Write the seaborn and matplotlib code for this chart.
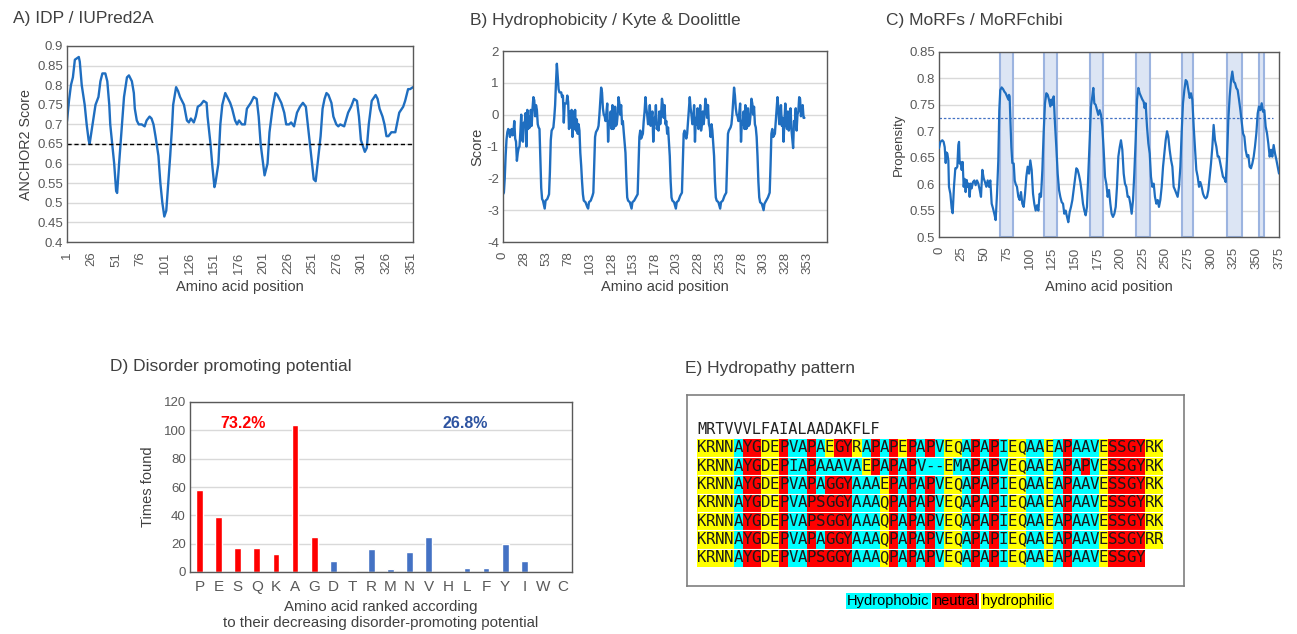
import numpy as np
import pandas as pd
import matplotlib.pyplot as plt
import seaborn as sns
from matplotlib.colors import ListedColormap

sns.set_style('white')
plt.rcParams['font.family'] = ['Liberation Sans', 'DejaVu Sans']
plt.rcParams['axes.unicode_minus'] = False

# ---------------- A) IUPred2A / ANCHOR2 ----------------
anchor_pos = [1, 3, 5, 7, 9, 12, 13, 14, 16, 19, 21, 23, 24, 27, 30, 33, 35, 37, 40, 42, 44, 45, 47,
              49, 51, 52, 54, 57, 59, 62, 64, 67, 69, 70, 72, 74, 77, 80, 82, 85, 87, 89, 91, 94,
              96, 98, 100, 102, 104, 106, 108, 109, 112, 114, 116, 120, 123, 125, 127, 130, 132,
              134, 137, 140, 143, 144, 147, 149, 151, 152, 155, 157, 159, 162, 164, 167, 169, 172,
              174, 176, 179, 182, 184, 188, 191, 194, 196, 198, 201, 202, 205, 207, 210, 213, 215,
              219, 222, 224, 227, 229, 232, 235, 238, 241, 244, 246, 249, 252, 254, 256, 259, 261,
              263, 265, 267, 270, 272, 275, 277, 279, 283, 287, 290, 293, 296, 298, 300, 304, 306,
              308, 311, 315, 317, 319, 322, 324, 326, 328, 331, 335, 337, 339, 343, 345, 348, 350, 353]
anchor_score = [0.708, 0.76, 0.80, 0.82, 0.865, 0.87, 0.872, 0.86, 0.80, 0.75, 0.70, 0.66, 0.65,
                0.70, 0.75, 0.77, 0.81, 0.83, 0.83, 0.81, 0.75, 0.70, 0.65, 0.60, 0.53, 0.525, 0.60,
                0.70, 0.77, 0.82, 0.825, 0.81, 0.78, 0.74, 0.71, 0.70, 0.70, 0.695, 0.71, 0.72,
                0.715, 0.70, 0.67, 0.62, 0.55, 0.50, 0.465, 0.48, 0.55, 0.62, 0.70, 0.75, 0.795,
                0.785, 0.77, 0.75, 0.71, 0.705, 0.715, 0.705, 0.72, 0.745, 0.75, 0.76, 0.755, 0.72,
                0.65, 0.59, 0.54, 0.55, 0.60, 0.70, 0.75, 0.78, 0.77, 0.755, 0.74, 0.71, 0.70, 0.71,
                0.70, 0.70, 0.74, 0.755, 0.77, 0.765, 0.72, 0.65, 0.59, 0.57, 0.60, 0.68, 0.74, 0.78,
                0.775, 0.755, 0.73, 0.70, 0.70, 0.705, 0.695, 0.73, 0.745, 0.755, 0.745, 0.70, 0.63,
                0.56, 0.555, 0.60, 0.67, 0.74, 0.765, 0.78, 0.775, 0.755, 0.72, 0.70, 0.695, 0.70,
                0.695, 0.73, 0.745, 0.765, 0.76, 0.72, 0.66, 0.63, 0.64, 0.70, 0.76, 0.775, 0.765,
                0.74, 0.72, 0.70, 0.67, 0.67, 0.68, 0.68, 0.705, 0.73, 0.745, 0.76, 0.79, 0.79, 0.795]
anchor_cutoff = 0.65
anchor_ticks = [1, 26, 51, 76, 101, 126, 151, 176, 201, 226, 251, 276, 301, 326, 351]
anchor_yticks = ['0.4', '0.45', '0.5', '0.55', '0.6', '0.65', '0.7', '0.75', '0.8', '0.85', '0.9']

# ---------------- B) Kyte & Doolittle ----------------
kd_pos = [0, 1, 2, 3, 4, 5, 6, 7, 8, 9, 10, 11, 12, 13, 14, 15, 16, 17, 18, 19, 20, 21, 22, 23, 24,
          25, 26, 27, 28, 29, 30, 31, 32, 33, 34, 35, 36, 37, 38, 39, 40, 41, 42,
          43, 44, 45, 46, 48, 49, 51, 53, 54, 55, 56, 58, 59, 60, 61, 62, 63, 64, 65, 67, 68, 69,
          70, 71, 73, 74, 75, 76, 77, 78, 79, 80, 81, 82, 83, 84, 85, 86, 87, 88,
          89, 90, 91, 92, 93, 95, 97, 98, 99, 101, 103, 104, 105, 106, 107, 109, 110, 111, 112,
          113, 114, 115, 116, 117, 118, 119, 120, 121, 122, 123, 124, 125, 126, 127, 128, 129,
          130, 131, 132, 133, 134, 135, 136, 137, 138, 139,
          141, 142, 143, 144, 146, 148, 149, 151, 153, 155, 156, 157, 158, 159, 161, 162, 163,
          164, 165, 166, 167, 168, 169, 170, 171, 172, 173, 174, 175, 176, 177, 178, 179, 180,
          181, 182, 183, 184, 185, 186, 187, 188, 189, 190,
          192, 193, 194, 195, 197, 199, 200, 202, 204, 206, 207, 208, 209, 211, 212, 213, 214,
          215, 216, 217, 218, 219, 220, 221, 222, 223, 224, 225, 226, 227, 228, 229, 230, 231,
          232, 233, 234, 235, 236, 237, 238, 239, 240, 241,
          243, 244, 245, 246, 248, 250, 251, 253, 255, 257, 258, 259, 260, 262, 263, 264, 265,
          266, 267, 268, 269, 270, 271, 272, 273, 274, 275, 276, 277, 278, 279, 280, 281, 282,
          283, 284, 285, 286, 287, 288, 289, 290, 291, 292,
          293, 294, 295, 296, 298, 300, 301, 303, 305, 307, 308, 309, 310, 311, 313, 314, 315,
          316, 317, 318, 319, 320, 321, 322, 323, 324, 325, 326, 327, 328, 329, 330, 331, 332,
          334, 335, 336, 337, 338, 339, 340, 341, 342, 343, 344, 345, 346, 347]
kd_score = [-2.5, -2.45, -2.0, -1.3, -0.8, -0.55, -0.45, -0.5, -0.7, -0.5, -0.45, -0.65, -0.55,
            -0.2, -0.75, -0.85, -1.45, -1.2, -1.05, -1.0, -0.55, 0.0, -0.8, -0.85, -0.25, -0.3,
            0.05, -1.0, 0.15, -0.45, -0.05, -0.4, 0.15, -0.35, 0.2, 0.55, 0.45, -0.05, 0.3, 0.15,
            -0.3, -0.4, -0.45,
            -1.4, -2.3, -2.65, -2.7, -2.95, -2.7, -2.65, -2.5, -1.8, -0.8, -0.5, -0.4, -0.1, 0.3,
            1.0, 1.6, 1.2, 0.8, 0.7, 0.7, 0.55, 0.6, -0.25, 0.35, 0.35, 0.6, 0.4, -0.45, 0.1,
            -0.4, 0.15, -0.7, 0.1, -0.45, 0.15, -0.5, -0.15, -0.6, -0.3, -0.5,
            -1.2, -1.6, -2.1, -2.5, -2.7, -2.75, -2.9, -2.95, -2.75, -2.7, -2.55, -2.45, -1.6,
            -0.7, -0.55, -0.45, -0.35, 0.0, 0.4, 0.85, 0.7, 0.2, 0.0, -0.05, -0.2, 0.05, 0.35,
            -0.85, -0.2, -0.3, 0.1, -0.45, 0.3, -0.45, -0.4, 0.25, -0.35, -0.3, 0.0, 0.55, 0.35,
            0.0, 0.3, -0.3, -0.2, -0.55,
            -1.2, -2.0, -2.6, -2.7, -2.75, -2.95, -2.75, -2.7, -2.6, -2.5, -1.6, -0.7, -0.5,
            -0.75, -0.6, -0.2, 0.1, 0.55, 0.2, 0.0, -0.3, -0.2, 0.3, -0.35, -0.1, 0.1, -0.85,
            -0.1, -0.3, 0.3, -0.45, -0.3, -0.5, 0.1, -0.3, 0.0, 0.5, 0.3, -0.1, 0.3, -0.3, -0.2,
            -0.6, -0.4,
            -1.3, -2.1, -2.6, -2.7, -2.75, -2.95, -2.75, -2.7, -2.55, -2.45, -1.5, -0.6, -0.5,
            -0.75, -0.6, -0.2, 0.2, 0.55, 0.2, 0.0, -0.3, -0.2, 0.3, -0.85, -0.1, -0.3, 0.2,
            -0.45, -0.3, 0.3, -0.5, -0.3, 0.1, -0.3, 0.0, 0.5, 0.3, -0.1, 0.3, -0.3, -0.4, -0.7,
            -0.3, -0.5,
            -1.3, -2.1, -2.6, -2.7, -2.75, -2.95, -2.75, -2.7, -2.55, -2.45, -1.5, -0.6, -0.5,
            -0.4, -0.3, 0.0, 0.4, 0.85, 0.6, 0.2, 0.0, -0.05, -0.2, 0.05, 0.35, -0.85, -0.2,
            -0.3, 0.1, -0.45, 0.3, -0.45, -0.4, 0.2, -0.35, -0.3, 0.0, 0.5, 0.35, 0.0, 0.25,
            -0.3, -0.4, -0.7,
            -1.3, -2.1, -2.6, -2.75, -2.8, -3.0, -2.8, -2.7, -2.6, -2.45, -1.6, -0.6, -0.45,
            -0.7, -0.6, -0.2, 0.2, 0.55, 0.2, -0.3, -0.2, 0.3, -0.35, -0.1, -0.85, -0.2, 0.35,
            -0.3, -0.45, 0.1, -0.5, -0.3, 0.2, -0.45, -1.05, -0.2, -0.3, 0.2, -0.5, 0.0, 0.1,
            0.55, 0.5, -0.05, 0.25, 0.3, -0.1, -0.1]
kd_tick_labels = [0, 28, 53, 78, 103, 128, 153, 178, 203, 228, 253, 278, 303, 328, 353]

# ---------------- C) MoRFchibi ----------------
morf_pos = [0, 1.5, 3.7, 5.1, 6.3, 7.4, 8.1, 9.2, 10.3, 11, 12.5, 14, 15.1, 16.5, 18, 19.1, 20.2,
            21.3, 22.1, 22.8, 23.9, 25, 26.1, 27.2, 28.3, 29.4, 30.5, 31.6, 32.7, 33.8, 34.9, 36,
            37.5, 39, 40.4, 41.9, 43.4, 44.9, 46.3, 47.8, 49.3, 50.7, 52.2, 53.7, 55.1, 56.6, 58.1,
            59.6, 61.4, 62.5, 64, 65.4, 66.5, 67.6, 69.1, 70.6, 72.1, 73.5, 75, 76.5, 77.2, 77.9,
            78.7, 79.8, 80.9, 82.4, 83.5, 84.6, 86, 87.5, 89, 90.4, 91.9, 93.4, 94.9, 96.3, 97.8,
            99.3, 100.7, 102.2, 103.7, 105.1, 106.6, 108.1, 109.6, 111, 112.5, 114, 115.4, 116.9,
            118.4, 119.9, 121.3, 122.8, 123.9, 125, 126.5, 127.9, 129.4, 130.9, 132.4, 133.8,
            135.3, 136.8, 138.2, 139.7, 141.2, 142.6, 144.1, 145.6, 147.1, 148.5, 150, 151.5,
            152.9, 154.4, 155.9, 157.4, 158.8, 160.3, 161.8, 163.2, 164.7, 166.2, 167.6, 169.1,
            170.2, 171.3, 172.8, 174.3, 175.7, 177.2, 178.7, 180.1, 181.6, 183.1, 184.6, 186,
            187.5, 189, 190.4, 191.9, 193.4, 194.9, 196.3, 197.8, 199.3, 200.7, 202.2, 203.7,
            205.1, 206.6, 208.1, 209.6, 211, 212.5, 214, 215.4, 216.9, 218.4, 219.9, 221.3, 222.8,
            224.3, 225.7, 226.8, 227.9, 229.4, 230.9, 232.4, 233.8, 235.3, 236.8, 238.2, 239.7,
            241.2, 242.6, 244.1, 245.6, 247.1, 248.5, 250, 251.5, 252.9, 254.4, 255.9, 257.4,
            258.8, 260.3, 261.8, 263.2, 264.7, 266.2, 267.6, 269.1, 270.6, 272.1, 273.5, 275,
            276.5, 277.9, 279.4, 280.9, 282.4, 283.8, 285.3, 286.8, 288.2, 289.7, 291.2, 292.6,
            294.1, 295.6, 297.1, 298.5, 300, 301.5, 302.9, 304.4, 305.9, 307.4, 308.8, 310.3,
            311.8, 313.2, 314.7, 316.2, 317.6, 319.1, 320.6, 322.1, 323.5, 325, 326.5, 327.9,
            329.4, 330.9, 332.4, 333.8, 335.3, 336.8, 338.2, 339.7, 341.2, 342.6, 344.1, 345.6,
            347.1, 348.5, 350, 351.5, 352.9, 354.4, 355.9, 357.4, 358.8, 360.3, 361.8, 363.2,
            364.7, 366.2, 367.6, 369.1, 370.6, 372.1, 373.5, 375]
morf_prop = [0.668, 0.68, 0.683, 0.68, 0.67, 0.64, 0.66, 0.658, 0.645, 0.595, 0.582, 0.554, 0.545,
             0.595, 0.63, 0.63, 0.633, 0.674, 0.68, 0.639, 0.642, 0.627, 0.642, 0.595, 0.61, 0.585,
             0.608, 0.595, 0.601, 0.576, 0.601, 0.592, 0.604, 0.607, 0.598, 0.607, 0.601, 0.589,
             0.576, 0.627, 0.611, 0.604, 0.595, 0.607, 0.595, 0.607, 0.563, 0.554, 0.541, 0.532,
             0.582, 0.645, 0.74, 0.778, 0.783, 0.78, 0.775, 0.772, 0.766, 0.76, 0.769, 0.766,
             0.722, 0.67, 0.64, 0.639, 0.607, 0.6, 0.595, 0.576, 0.57, 0.585, 0.563, 0.557, 0.582,
             0.614, 0.633, 0.62, 0.645, 0.627, 0.582, 0.563, 0.55, 0.56, 0.55, 0.582, 0.576,
             0.627, 0.696, 0.753, 0.772, 0.769, 0.76, 0.747, 0.76, 0.75, 0.766, 0.715, 0.67, 0.62,
             0.589, 0.576, 0.566, 0.563, 0.544, 0.55, 0.538, 0.528, 0.547, 0.557, 0.57, 0.589,
             0.611, 0.63, 0.627, 0.617, 0.604, 0.585, 0.563, 0.55, 0.541, 0.557, 0.62, 0.683,
             0.747, 0.766, 0.782, 0.753, 0.75, 0.74, 0.731, 0.74, 0.731, 0.709, 0.665, 0.614, 0.6,
             0.576, 0.589, 0.563, 0.544, 0.538, 0.544, 0.557, 0.595, 0.652, 0.67, 0.683, 0.665,
             0.62, 0.601, 0.595, 0.576, 0.576, 0.563, 0.544, 0.57, 0.62, 0.683, 0.76, 0.782, 0.772,
             0.766, 0.76, 0.756, 0.744, 0.753, 0.709, 0.677, 0.658, 0.614, 0.595, 0.601, 0.576,
             0.563, 0.57, 0.557, 0.57, 0.595, 0.633, 0.658, 0.683, 0.7, 0.69, 0.665, 0.646, 0.633,
             0.595, 0.589, 0.582, 0.576, 0.595, 0.633, 0.696, 0.753, 0.778, 0.797, 0.794, 0.778,
             0.763, 0.772, 0.76, 0.709, 0.665, 0.627, 0.614, 0.595, 0.604, 0.595, 0.582, 0.576,
             0.573, 0.576, 0.589, 0.614, 0.639, 0.671, 0.712, 0.683, 0.671, 0.652, 0.652, 0.639,
             0.627, 0.614, 0.611, 0.604, 0.646, 0.722, 0.766, 0.797, 0.813, 0.794, 0.791, 0.782,
             0.778, 0.76, 0.74, 0.718, 0.696, 0.69, 0.665, 0.652, 0.655, 0.633, 0.63, 0.639, 0.652,
             0.671, 0.696, 0.734, 0.747, 0.74, 0.753, 0.737, 0.74, 0.709, 0.696, 0.677, 0.652,
             0.665, 0.652, 0.674, 0.658, 0.646, 0.633, 0.62]
morf_regions = [(67, 81.5), (115.5, 130), (166, 180.5), (217.5, 232.5), (267.5, 280.5),
                (317.5, 334), (352.5, 359)]
morf_cutoff = 0.725
morf_ticks = [0, 25, 50, 75, 100, 125, 150, 175, 200, 225, 250, 275, 300, 325, 350, 375]
morf_yticks = ['0.5', '0.55', '0.6', '0.65', '0.7', '0.75', '0.8', '0.85']

# ---------------- D) Disorder promoting potential ----------------
aa_order = ['P', 'E', 'S', 'Q', 'K', 'A', 'G', 'D', 'T', 'R', 'M', 'N', 'V', 'H', 'L', 'F',
            'Y', 'I', 'W', 'C']
aa_counts = [58, 39, 17, 17, 13, 104, 25, 8, 1, 16, 2, 14, 25, 0, 3, 3, 20, 8, 0, 0]
aa_group = ['disorder'] * 7 + ['order'] * 13
pct_disorder = '73.2%'
pct_order = '26.8%'

# ---------------- E) Hydropathy pattern ----------------
header_seq = 'MRTVVVLFAIALAADAKFLF'
repeat_seqs = [
    'KRNNAYGDEPVAPAEGYRAPAPEPAPVEQAPAPIEQAAEAPAAVESSGYRK',
    'KRNNAYGDEPIAPAAAVAEPAPAPV--EMAPAPVEQAAEAPAPVESSGYRK',
    'KRNNAYGDEPVAPAGGYAAAEPAPAPVEQAPAPIEQAAEAPAAVESSGYRK',
    'KRNNAYGDEPVAPSGGYAAAQPAPAPVEQAPAPIEQAAEAPAAVESSGYRK',
    'KRNNAYGDEPVAPSGGYAAAQPAPAPVEQAPAPIEQAAEAPAAVESSGYRK',
    'KRNNAYGDEPVAPAGGYAAAQPAPAPVEQAPAPIEQAAEAPAAVESSGYRR',
    'KRNNAYGDEPVAPSGGYAAAQPAPAPVEQAPAPIEQAAEAPAAVESSGY',
]
hydro_classes = ['Hydrophobic', 'neutral', 'hydrophilic']
hydro_members = ['AVILMFWC-', 'PGSTYH', 'KRNDEQ']
hydro_colors = ['#00FFFF', '#FF0000', '#FFFF00']

LINE = '#1F6EC0'
GRID = '#D9D9D9'
TXT = '#595959'
TITLE = '#404040'

fig = plt.figure(figsize=(12.97, 6.34), dpi=100)


def frame(ax):
    for s in ax.spines.values():
        s.set_visible(True)
        s.set_color('#595959')
        s.set_linewidth(1)
    ax.tick_params(axis='both', colors=TXT, labelsize=9.5, length=0, pad=3)
    ax.yaxis.grid(True, color=GRID, lw=1)
    ax.set_axisbelow(True)


# A
axA = fig.add_axes([67 / 1297, 1 - 242 / 634, 346 / 1297, 196 / 634])
sns.lineplot(x=anchor_pos, y=anchor_score, ax=axA, color=LINE, lw=1.7, estimator=None, sort=False)
axA.axhline(anchor_cutoff, ls=(0, (3, 2)), color='black', lw=1)
frame(axA)
axA.set_xlim(1, 353)
axA.set_ylim(0.4, 0.9)
axA.set_yticks([float(t) for t in anchor_yticks])
axA.set_yticklabels(anchor_yticks)
axA.set_xticks(anchor_ticks)
axA.set_xticklabels(anchor_ticks, rotation=90)
axA.tick_params(axis='x', length=4, color='#595959')
axA.set_xlabel('Amino acid position', fontsize=10.5, color=TITLE)
axA.set_ylabel('ANCHOR2 Score', fontsize=10.3, color=TITLE, labelpad=3)

# B
axB = fig.add_axes([503 / 1297, 1 - 242 / 634, 324 / 1297, 191 / 634])
sns.lineplot(x=kd_pos, y=kd_score, ax=axB, color=LINE, lw=1.7, estimator=None, sort=False)
frame(axB)
axB.set_xlim(0, 373)
axB.set_ylim(-4, 2)
axB.set_yticks(range(-4, 3))
axB.set_xticks([25 * i for i in range(len(kd_tick_labels))])
axB.set_xticklabels(kd_tick_labels, rotation=90)
axB.tick_params(axis='x', length=4, color='#595959')
axB.set_xlabel('Amino acid position', fontsize=10.5, color=TITLE)
axB.set_ylabel('Score', fontsize=10.5, color=TITLE, labelpad=2)

# C
axC = fig.add_axes([939 / 1297, 1 - 237 / 634, 340 / 1297, 185 / 634])
for a, b in morf_regions:
    axC.axvspan(a, b, fc='#DCE5F4', ec='#9CB4E0', lw=1.5, zorder=1)
axC.hlines(morf_cutoff, 0, 368, colors='#4472C4', linestyles=(0, (2, 1.5)), lw=0.9, zorder=2)
sns.lineplot(x=morf_pos, y=morf_prop, ax=axC, color=LINE, lw=1.6, estimator=None, sort=False, zorder=3)
frame(axC)
axC.set_xlim(0, 375)
axC.set_ylim(0.5, 0.85)
axC.set_yticks([float(t) for t in morf_yticks])
axC.set_yticklabels(morf_yticks)
axC.set_xticks(morf_ticks)
axC.set_xticklabels(morf_ticks, rotation=90)
axC.tick_params(axis='x', length=4, color='#595959')
axC.set_xlabel('Amino acid position', fontsize=10.5, color=TITLE, labelpad=8)
axC.set_ylabel('Propensity', fontsize=9.5, color=TITLE, labelpad=3)

# D
axD = fig.add_axes([190 / 1297, 1 - 572 / 634, 382 / 1297, 170 / 634])
dfD = pd.DataFrame({'aa': aa_order, 'count': aa_counts, 'group': aa_group})
bar_palette = {aa: ('#FF0000' if g == 'disorder' else '#4472C4') for aa, g in zip(aa_order, aa_group)}
sns.barplot(data=dfD, x='aa', y='count', hue='aa', order=aa_order, hue_order=aa_order,
            dodge=False, width=0.36, palette=bar_palette, saturation=1, legend=False, ax=axD)
frame(axD)
axD.set_ylim(0, 120)
axD.set_xlim(-0.5, 19.5)
axD.set_yticks(range(0, 121, 20))
axD.tick_params(axis='x', labelsize=11, pad=6)
axD.text(2.3, 105, pct_disorder, color='#FF0000', fontsize=11.5, fontweight='bold', ha='center', va='center')
axD.text(13.9, 105, pct_order, color='#2E54A1', fontsize=11.5, fontweight='bold', ha='center', va='center')
axD.set_xlabel('Amino acid ranked according\nto their decreasing disorder-promoting potential',
               fontsize=10.8, color=TITLE, labelpad=4, linespacing=1.15)
axD.set_ylabel('Times found', fontsize=10.5, color=TITLE, labelpad=6)

# E
axBox = fig.add_axes([687 / 1297, 1 - 586 / 634, 497 / 1297, 191 / 634])
axBox.set_xticks([])
axBox.set_yticks([])
for s in axBox.spines.values():
    s.set_color('#7F7F7F')
    s.set_linewidth(1.2)

ncol = max(len(s) for s in repeat_seqs)
class_of = {}
for k, members in enumerate(hydro_members):
    for ch in members:
        class_of[ch] = k
codes = np.full((len(repeat_seqs), ncol), np.nan)
letters = np.full((len(repeat_seqs), ncol), '', dtype=object)
for i, seq in enumerate(repeat_seqs):
    for j, ch in enumerate(seq):
        codes[i, j] = class_of[ch]
        letters[i, j] = ch

axE = fig.add_axes([697 / 1297, 1 - 566.8 / 634, 466.1 / 1297, 128.1 / 634])
sns.heatmap(codes, ax=axE, cmap=ListedColormap(hydro_colors), vmin=-0.5, vmax=2.5, cbar=False,
            annot=letters, fmt='', xticklabels=False, yticklabels=False,
            annot_kws={'color': '#1a1a1a', 'fontsize': 11.3, 'family': 'DejaVu Sans Mono'})
axE.hlines(range(1, len(repeat_seqs)), 0, ncol, colors='white', lw=0.8)
axE.text(0.0, -0.5, header_seq, ha='left', va='center', fontsize=11, family='DejaVu Sans Mono',
         color='#222222', clip_on=False)

lx = [847, 933, 982]
for name, col, x in zip(hydro_classes, hydro_colors, lx):
    fig.text(x / 1297, 1 - 601 / 634, name, fontsize=10.5, color='black', ha='left', va='center',
             bbox=dict(boxstyle='square,pad=0.08', fc=col, ec='none'))

# titles
fig.text(13 / 1297, 1 - 18 / 634, 'A) IDP / IUPred2A', fontsize=12.5, color=TITLE, va='center')
fig.text(470 / 1297, 1 - 20 / 634, 'B) Hydrophobicity / Kyte & Doolittle', fontsize=12.5, color=TITLE, va='center')
fig.text(886 / 1297, 1 - 20 / 634, 'C) MoRFs / MoRFchibi', fontsize=12.5, color=TITLE, va='center')
fig.text(110 / 1297, 1 - 366 / 634, 'D) Disorder promoting potential', fontsize=12.5, color=TITLE, va='center')
fig.text(685 / 1297, 1 - 368 / 634, 'E) Hydropathy pattern', fontsize=12.5, color=TITLE, va='center')

fig.savefig('out.png', dpi=100)
